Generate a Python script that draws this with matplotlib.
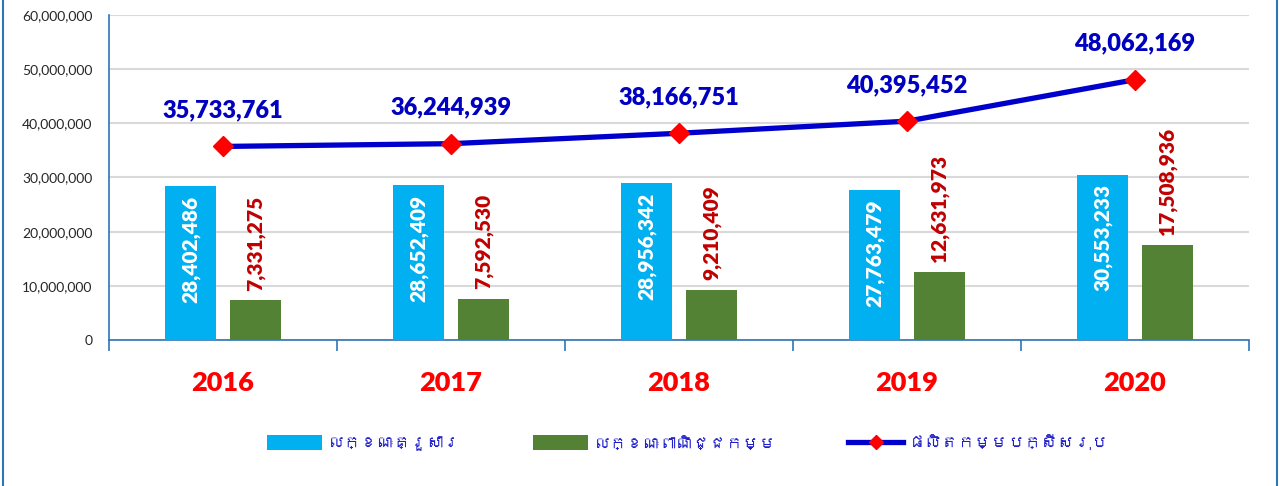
import matplotlib
matplotlib.use("Agg")
import matplotlib.pyplot as plt
from matplotlib import font_manager
from matplotlib.ft2font import FT2Font
from matplotlib.lines import Line2D
import numpy as np

years = ["2016", "2017", "2018", "2019", "2020"]
household = [28402486, 28652409, 28956342, 27763479, 30553233]
commercial = [7331275, 7592530, 9210409, 12631973, 17508936]
total = [35733761, 36244939, 38166751, 40395452, 48062169]
legend_labels = ["លក្ខណៈគ្រួសារ", "លក្ខណៈពាណិជ្ជកម្ម", "ផលិតកម្មបក្សីសរុប"]
yticks = [0, 10000000, 20000000, 30000000, 40000000, 50000000, 60000000]

# find a font with Khmer glyphs, if any
khmer_font = None
for f in font_manager.fontManager.ttflist:
    try:
        ft = FT2Font(f.fname)
        if 0x179B in ft.get_charmap():
            khmer_font = f.name
            break
    except Exception:
        pass

base = "Lato"
plt.rcParams['font.family'] = [base, 'DejaVu Sans']

fig = plt.figure(figsize=(12.84, 4.86), dpi=100)
ax = fig.add_axes([109/1284, 1 - 340/486, (1249-109)/1284, (340-15)/486])

x = np.arange(len(years))
off = 0.1425
w = 0.224
c_blue = "#00B0F0"
c_green = "#548235"
c_line = "#0000CC"

b1 = ax.bar(x - off, household, w, color=c_blue, zorder=3, label=legend_labels[0])
b2 = ax.bar(x + off, commercial, w, color=c_green, zorder=3, label=legend_labels[1])
ln, = ax.plot(x, total, color=c_line, lw=3.8, marker="D", markersize=10,
              markerfacecolor="#FF0000", markeredgecolor="#FF0000", zorder=5,
              label=legend_labels[2])

for xi, v in zip(x, household):
    ax.annotate(f"{v:,}", (xi - off, v), xytext=(0, -7), textcoords="offset points",
                rotation=90, ha="center", va="top", color="white",
                fontsize=15, fontweight="heavy", zorder=6)
for xi, v in zip(x, commercial):
    ax.annotate(f"{v:,}", (xi + off, v), xytext=(0, 7), textcoords="offset points",
                rotation=90, ha="center", va="bottom", color="#C00000",
                fontsize=15, fontweight="heavy", zorder=6)
for xi, v in zip(x, total):
    ax.annotate(f"{v:,}", (xi, v), xytext=(0, 18), textcoords="offset points",
                ha="center", va="bottom", color="#0000C0",
                fontsize=17, fontweight="heavy", zorder=6)

ax.set_xlim(-0.5, len(years) - 0.5)
ax.set_ylim(0, 60000000)
ax.set_yticks(yticks)
ax.set_yticklabels([f"{t:,}" for t in yticks])
ax.tick_params(axis="y", length=0, pad=12, labelsize=10, labelcolor="#262626")
ax.set_xticks(x)
ax.set_xticklabels(years)
ax.tick_params(axis="x", which="major", length=0, pad=22, labelsize=19.5,
               labelcolor="#FF0000")
for lab in ax.get_xticklabels():
    lab.set_fontweight("heavy")
ax.set_xticks(np.arange(-0.5, len(years), 1.0), minor=True)
ax.tick_params(axis="x", which="minor", length=8, width=1.2, color="#2E75B6",
               direction="out")
ax.grid(axis="y", color="#D9D9D9", lw=1.5, zorder=0)
ax.set_axisbelow(True)
for s in ["top", "right"]:
    ax.spines[s].set_visible(False)
ax.spines["left"].set_color("#2E75B6")
ax.spines["bottom"].set_color("#2E75B6")
ax.spines["left"].set_linewidth(1.2)
ax.spines["bottom"].set_linewidth(1.2)

lfam = [khmer_font, 'DejaVu Sans'] if khmer_font else [base, 'DejaVu Sans']
leg = fig.legend(handles=[b1, b2, ln], labels=legend_labels, loc="center",
                 bbox_to_anchor=(688/1284, 1 - 443/486), ncol=3, frameon=False,
                 handlelength=3.3, handleheight=1.0, handletextpad=0.35,
                 columnspacing=4.3, prop={"family": lfam, "size": 12})
for t in leg.get_texts():
    t.set_color("#1F1FCC")
try:
    handles = leg.legend_handles
except AttributeError:
    handles = leg.legendHandles
handles[2].set_markersize(7)

# outer border
fig.add_artist(Line2D([3/1284, 3/1284], [0, 1], transform=fig.transFigure,
                      color="#2E75B6", lw=1.5))
fig.add_artist(Line2D([1277/1284, 1277/1284], [0, 1], transform=fig.transFigure,
                      color="#2E75B6", lw=1.5))

fig.savefig("out.png", dpi=100)
